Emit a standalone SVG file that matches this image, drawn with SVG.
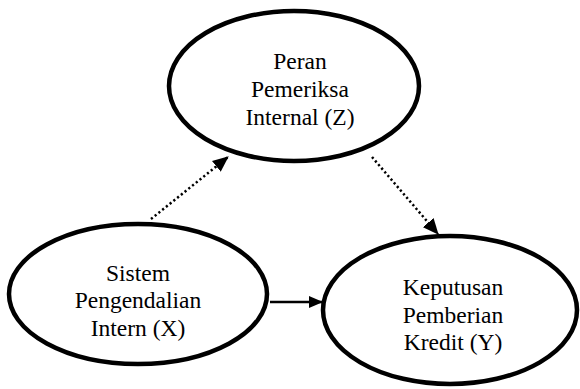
<svg xmlns="http://www.w3.org/2000/svg" width="580" height="389" viewBox="0 0 580 389">
<style>
.node ellipse{fill:#fff;stroke:#000;stroke-width:4.5}
.node text{font-size:23.5px;fill:#000;text-anchor:middle}
.conn line{stroke:#000;stroke-width:2.5;fill:none}
.dot{stroke-dasharray:2.2 2.6}
</style>
<defs>
<marker id="ah" markerUnits="userSpaceOnUse" markerWidth="16" markerHeight="14" refX="15" refY="7" orient="auto">
<path d="M0,0 L16,7 L0,14 Z" fill="#000"/>
</marker>
<marker id="ah2" markerUnits="userSpaceOnUse" markerWidth="14" markerHeight="12" refX="13" refY="6" orient="auto">
<path d="M0,0 L14,6 L0,12 Z" fill="#000"/>
</marker>
</defs>
<g id="connectors" class="conn">
<line class="dot" x1="151" y1="219" x2="228" y2="157" marker-end="url(#ah)"/>
<line class="dot" x1="372" y1="157" x2="438" y2="234" marker-end="url(#ah)"/>
<line x1="270" y1="302" x2="322" y2="302" marker-end="url(#ah2)"/>
</g>
<g id="nodeZ" class="node" font-family="'Liberation Serif', 'Times New Roman', 'DejaVu Serif', serif">
<ellipse cx="294" cy="86" rx="125" ry="75"/>
<text x="300" y="69">Peran</text>
<text x="300" y="97">Pemeriksa</text>
<text x="300" y="125">Internal (Z)</text>
</g>
<g id="nodeX" class="node" font-family="'Liberation Serif', 'Times New Roman', 'DejaVu Serif', serif">
<ellipse cx="138" cy="294" rx="129" ry="70"/>
<text x="138" y="281">Sistem</text>
<text x="138" y="308">Pengendalian</text>
<text x="138" y="336">Intern (X)</text>
</g>
<g id="nodeY" class="node" font-family="'Liberation Serif', 'Times New Roman', 'DejaVu Serif', serif">
<ellipse cx="450" cy="310" rx="127" ry="74"/>
<text x="453" y="295">Keputusan</text>
<text x="453" y="323">Pemberian</text>
<text x="453" y="350">Kredit (Y)</text>
</g>
</svg>
